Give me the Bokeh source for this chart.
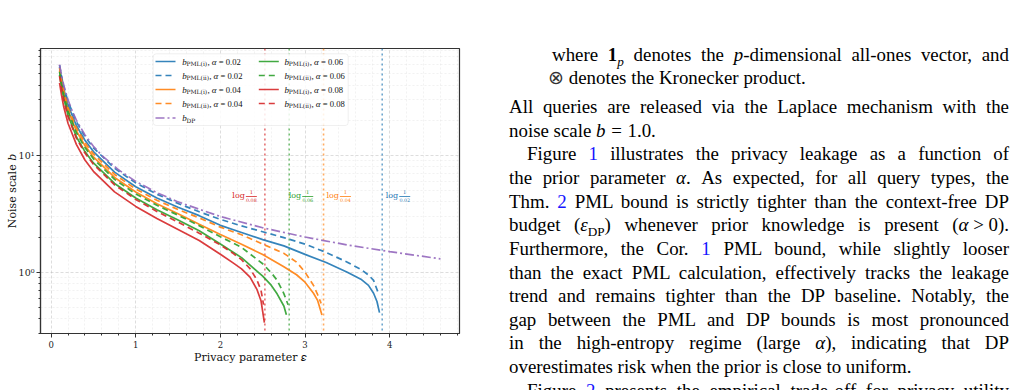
import numpy as np
from bokeh.plotting import figure
from bokeh.models import FixedTicker, Span, Div, BoxAnnotation, Range1d
from bokeh.layouts import row
from bokeh.core.properties import value
from bokeh.embed import file_html
from bokeh.resources import INLINE

# ---------------------------------------------------------------- data
alphas = [0.02, 0.04, 0.06, 0.08]
alpha_labels = ["0.02", "0.04", "0.06", "0.08"]

eps_dp = [0.1, 0.125, 0.15, 0.2, 0.25, 0.3, 0.4, 0.5, 0.6, 0.8, 1.0, 1.25, 1.5, 2.0, 2.5, 3.0, 3.5, 4.0, 4.6]
b_dp = [60, 48, 40, 30, 24, 20, 15, 12, 10, 7.5, 6.0, 4.8, 4.0, 3.0, 2.4, 2.0, 1.71, 1.5, 1.3]

# PML(i) / PML(ii) noise scales, alpha = 0.02
eps_i_002 = [0.1, 0.125, 0.15, 0.2, 0.3, 0.4, 0.5, 0.75, 1.0, 1.25, 1.5, 1.75, 2.0, 2.25, 2.5, 2.75, 3.0, 3.25, 3.5, 3.66, 3.75, 3.81, 3.85, 3.88]
b_i_002 = [57.6, 45.4, 37.2, 27.0, 18.0, 13.5, 10.8, 7.2, 5.4, 4.32, 3.6, 3.05, 2.52, 2.19, 1.9, 1.68, 1.42, 1.21, 1.0, 0.87, 0.77, 0.66, 0.56, 0.45]
eps_ii_002 = [0.1, 0.125, 0.15, 0.2, 0.3, 0.4, 0.5, 0.75, 1.0, 1.25, 1.5, 1.75, 2.0, 2.25, 2.5, 2.75, 3.0, 3.25, 3.5, 3.66, 3.75, 3.81, 3.87]
b_ii_002 = [59.4, 47.0, 38.8, 29.1, 19.4, 14.55, 11.64, 7.76, 5.82, 4.66, 3.88, 3.29, 2.835, 2.49, 2.22, 1.975, 1.74, 1.477, 1.217, 1.057, 0.944, 0.85, 0.65]

# alpha = 0.04
eps_i_004 = [0.1, 0.125, 0.15, 0.2, 0.3, 0.4, 0.5, 0.75, 1.0, 1.25, 1.5, 1.75, 2.0, 2.25, 2.5, 2.75, 2.9, 3.0, 3.1, 3.15, 3.2]
b_i_004 = [53.4, 41.8, 34.0, 24.3, 16.2, 12.15, 9.72, 6.48, 4.86, 3.86, 3.16, 2.57, 2.1, 1.733, 1.416, 1.113, 0.95, 0.82, 0.66, 0.57, 0.43]
eps_ii_004 = [0.1, 0.125, 0.15, 0.2, 0.3, 0.4, 0.5, 0.75, 1.0, 1.25, 1.5, 1.75, 2.0, 2.25, 2.5, 2.75, 2.9, 3.0, 3.1, 3.15, 3.19]
b_ii_004 = [56.4, 44.2, 36.0, 25.8, 17.2, 12.9, 10.32, 6.88, 5.16, 4.13, 3.44, 2.92, 2.43, 2.09, 1.74, 1.45, 1.22, 1.0, 0.77, 0.64, 0.54]

# alpha = 0.06
eps_i_006 = [0.1, 0.125, 0.15, 0.2, 0.3, 0.4, 0.5, 0.75, 1.0, 1.25, 1.5, 1.75, 2.0, 2.25, 2.5, 2.6, 2.67, 2.75, 2.78]
b_i_006 = [49.2, 38.2, 30.8, 22.2, 14.4, 10.8, 8.64, 5.76, 4.32, 3.43, 2.8, 2.26, 1.74, 1.333, 0.924, 0.773, 0.652, 0.513, 0.432]
eps_ii_006 = [0.1, 0.125, 0.15, 0.2, 0.3, 0.4, 0.5, 0.75, 1.0, 1.25, 1.5, 1.75, 2.0, 2.25, 2.5, 2.6, 2.67, 2.75, 2.80]
b_ii_006 = [52.2, 40.8, 33.2, 24.0, 15.6, 11.7, 9.36, 6.24, 4.68, 3.74, 3.08, 2.50, 2.01, 1.63, 1.18, 0.99, 0.854, 0.655, 0.525]

# alpha = 0.08
eps_i_008 = [0.1, 0.125, 0.15, 0.2, 0.3, 0.4, 0.5, 0.75, 1.0, 1.25, 1.5, 1.75, 2.0, 2.15, 2.25, 2.35, 2.43, 2.48, 2.52]
b_i_008 = [42.0, 32.4, 26.0, 18.9, 12.4, 9.15, 7.32, 4.88, 3.66, 2.88, 2.32, 1.87, 1.425, 1.2, 1.067, 0.906, 0.716, 0.569, 0.369]
eps_ii_008 = [0.1, 0.125, 0.15, 0.2, 0.3, 0.4, 0.5, 0.75, 1.0, 1.25, 1.5, 1.75, 2.0, 2.15, 2.25, 2.35, 2.43, 2.48, 2.51]
b_ii_008 = [48.0, 37.2, 30.0, 21.6, 14.0, 10.5, 8.4, 5.6, 4.2, 3.31, 2.68, 2.16, 1.71, 1.45, 1.28, 1.072, 0.864, 0.70, 0.526]

x_ticks = [0, 1, 2, 3, 4]
y_ticks = [1, 10]
y_tick_labels = ["10\u2070", "10\u00b9"]

# ---------------------------------------------------------------- style
COLORS = ["#1f77b4", "#ff7f0e", "#2ca02c", "#d62728"]
DP_COLOR = "#9467bd"
SERIF = "DejaVu Serif"
TIMES = "Liberation Serif"
DASH = "6 4"
DASHDOT = "9 3 2 3"

# frame geometry (pixels inside the figure canvas)
FRAME_L, FRAME_T, FRAME_W, FRAME_H = 40, 48, 419, 285
FIG_W, FIG_H = 490, 390
X_LO, X_HI = -0.125, 4.825
Y_LO, Y_HI = 0.298, 82.6
LY_LO, LY_HI = np.log10(Y_LO), np.log10(Y_HI)


def px_x(px):
    return X_LO + (px - FRAME_L) * (X_HI - X_LO) / FRAME_W


def px_y(py):
    return 10 ** (LY_HI - (py - FRAME_T) * (LY_HI - LY_LO) / FRAME_H)


p = figure(
    frame_width=FRAME_W, frame_height=FRAME_H,
    x_range=Range1d(X_LO, X_HI), y_range=Range1d(Y_LO, Y_HI),
    y_axis_type="log", output_backend="svg", toolbar_location=None,
    min_border_left=FRAME_L, min_border_top=FRAME_T,
    min_border_right=FIG_W - FRAME_L - FRAME_W,
    min_border_bottom=FIG_H - FRAME_T - FRAME_H,
    background_fill_color="white", border_fill_color="white",
)
p.outline_line_color = "#333333"
p.outline_line_width = 1.2

x_minor = [round(v, 1) for v in np.arange(-0.0, 4.81, 0.2) if round(v, 1) not in x_ticks]
y_minor = [m * 10.0 ** k for k in (-1, 0, 1) for m in range(2, 10) if Y_LO <= m * 10.0 ** k <= Y_HI]
xt = FixedTicker(ticks=x_ticks, minor_ticks=x_minor)
yt = FixedTicker(ticks=y_ticks, minor_ticks=y_minor)
p.xaxis.ticker = xt
p.yaxis.ticker = yt
p.xgrid.ticker = xt
p.ygrid.ticker = yt
p.yaxis.major_label_overrides = dict(zip(y_ticks, y_tick_labels))

for ax in (p.xaxis[0], p.yaxis[0]):
    ax.axis_line_color = "#333333"
    ax.axis_line_width = 1.2
    ax.major_tick_line_color = "#333333"
    ax.minor_tick_line_color = "#333333"
    ax.major_tick_out = 4
    ax.major_tick_in = 0
    ax.minor_tick_out = 2
    ax.minor_tick_in = 0
    ax.major_label_text_font = SERIF
    ax.major_label_text_color = "#222222"
    ax.major_label_standoff = 3
    ax.axis_label_text_font = SERIF
    ax.axis_label_text_font_size = "11px"
    ax.axis_label_text_font_style = "normal"
    ax.axis_label_text_color = "#111111"
p.xaxis.major_label_text_font_size = "8.5px"
p.yaxis.major_label_text_font_size = "9.5px"
p.yaxis.major_label_standoff = 2
p.xaxis.axis_label_standoff = 0
p.yaxis.axis_label_standoff = -3
p.xaxis.axis_label = "Privacy parameter \U0001d700"
p.yaxis.axis_label = "Noise scale \U0001d44f"

for g in (p.xgrid, p.ygrid):
    g.grid_line_color = "#b0b0b0"
    g.grid_line_alpha = 0.55
    g.grid_line_dash = "3 2"
    g.grid_line_width = 0.8
    g.minor_grid_line_color = "#b0b0b0"
    g.minor_grid_line_alpha = 0.28
    g.minor_grid_line_dash = "2 2"
    g.minor_grid_line_width = 0.6

# ---------------------------------------------------------------- curves
series_i = [(eps_i_002, b_i_002), (eps_i_004, b_i_004), (eps_i_006, b_i_006), (eps_i_008, b_i_008)]
series_ii = [(eps_ii_002, b_ii_002), (eps_ii_004, b_ii_004), (eps_ii_006, b_ii_006), (eps_ii_008, b_ii_008)]

for (xs, ys), c in zip(series_i, COLORS):
    p.line(xs, ys, line_color=c, line_width=1.7, line_alpha=0.9)
for (xs, ys), c in zip(series_ii, COLORS):
    p.line(xs, ys, line_color=c, line_width=1.7, line_alpha=0.9, line_dash=DASH)
p.line(eps_dp, b_dp, line_color=DP_COLOR, line_width=1.7, line_alpha=0.9, line_dash=DASHDOT)

# ---------------------------------------------------------------- thresholds log(1/alpha)
label_shift_px = [3.5, 2.9, -0.5, -32.5]   # where each label starts, relative to its line
LABEL_Y_PX = 195
dxu = (X_HI - X_LO) / FRAME_W
for a, c, lab, shift in zip(alphas, COLORS, alpha_labels, label_shift_px):
    thr = float(np.log(1.0 / a))
    p.add_layout(Span(location=thr, dimension="height", line_color=c, line_dash="2 3",
                      line_width=1.6, line_alpha=0.65, level="underlay"))
    x0 = thr + shift * dxu
    p.text([x0], [px_y(LABEL_Y_PX)], text=["log"], text_color=c, text_font=value(SERIF),
           text_font_size="8px", text_baseline="middle", text_align="left")
    p.text([x0 + 19 * dxu], [px_y(LABEL_Y_PX - 3.8)], text=["1"], text_color=c, text_font=value(SERIF),
           text_font_size="5.2px", text_baseline="middle", text_align="center")
    p.text([x0 + 19 * dxu], [px_y(LABEL_Y_PX + 4.2)], text=[lab], text_color=c, text_font=value(SERIF),
           text_font_size="4.8px", text_baseline="middle", text_align="center")
    p.segment(x0=[x0 + 13.5 * dxu], y0=[px_y(LABEL_Y_PX + 1)], x1=[x0 + 24.5 * dxu], y1=[px_y(LABEL_Y_PX + 1)],
              line_color=c, line_width=0.8)

# ---------------------------------------------------------------- legend
p.add_layout(BoxAnnotation(left=px_x(152.7), right=px_x(347.7), top=px_y(53.3), bottom=px_y(125),
                           fill_color="white", fill_alpha=0.85, line_color="#cccccc", line_width=1,
                           border_radius=3, level="underlay"))

ROW_Y = [61, 75, 89, 103, 117.5]
COL_SAMPLE = [155, 258.3]
COL_TEXT = [181.7, 284]
entries = []
for k, (a_lab, c) in enumerate(zip(alpha_labels, COLORS)):
    col = k // 2
    r0 = (k % 2) * 2
    entries.append((col, r0, c, None, "PML(i)", a_lab))
    entries.append((col, r0 + 1, c, DASH, "PML(ii)", a_lab))
entries.append((0, 4, DP_COLOR, DASHDOT, "DP", None))

for col, r, c, dash, sub, a_lab in entries:
    yy = px_y(ROW_Y[r])
    kw = dict(line_color=c, line_width=1.7, line_alpha=0.9)
    if dash:
        kw["line_dash"] = dash
    p.line([px_x(COL_SAMPLE[col]), px_x(COL_SAMPLE[col] + 20)], [yy, yy], **kw)
    tx = COL_TEXT[col]
    p.text([px_x(tx)], [yy], text=["b"], text_font=value(TIMES), text_font_style="italic",
           text_font_size="9px", text_baseline="middle", text_color="#111111")
    p.text([px_x(tx + 4.2)], [px_y(ROW_Y[r] + 2.3)], text=[sub], text_font=value(SERIF),
           text_font_size="6px", text_baseline="middle", text_color="#111111")
    if a_lab is not None:
        off = 25.3 if sub == "PML(i)" else 27.0
        p.text([px_x(tx + off)], [yy], text=[","], text_font=value(TIMES),
               text_font_size="9px", text_baseline="middle", text_color="#111111")
        p.text([px_x(tx + off + 4.3)], [yy], text=["\u03b1"], text_font=value(TIMES), text_font_style="italic",
               text_font_size="9px", text_baseline="middle", text_color="#111111")
        p.text([px_x(tx + off + 11.2)], [yy], text=["= " + a_lab], text_font=value(TIMES),
               text_font_size="8.6px", text_baseline="middle", text_color="#111111")

# ---------------------------------------------------------------- text column
TEXT_L = FIG_W
RIGHT = 1009
BLUE = "#1515ff"
PITCH = 23.64
SUB = '<sub style="font-size:70%;line-height:0">'
OTIMES = '<span style="font-family:\'DejaVu Sans\';font-weight:200;color:#333">&#8855;</span>'
text_lines = [
    (552, 60.5, True, 'where <b>1</b>' + SUB + '<i>p</i></sub> denotes the <i>p</i>-dimensional all-ones vector, and'),
    (548, 83.5, False, OTIMES + ' denotes the Kronecker product.'),
    (509, 113, True, 'All queries are released via the Laplace mechanism with the'),
    (509, 113 + PITCH, False, 'noise scale <i>b</i><span style="margin:0 0.3em">=</span>1.0.'),
    (527, 113 + 2 * PITCH, True, 'Figure <span style="color:%s">1</span> illustrates the privacy leakage as a function of' % BLUE),
    (509, 113 + 3 * PITCH, True, 'the prior parameter <i>&alpha;</i>. As expected, for all query types, the'),
    (509, 113 + 4 * PITCH, True, 'Thm. <span style="color:%s">2</span> PML bound is strictly tighter than the context-free DP' % BLUE),
    (509, 113 + 5 * PITCH, True, 'budget (<i>&epsilon;</i>' + SUB + 'DP</sub>) whenever prior knowledge is present (<i>&alpha;</i><span style="margin:0 0.25em">&gt;</span>0).'),
    (509, 113 + 6 * PITCH, True, 'Furthermore, the Cor. <span style="color:%s">1</span> PML bound, while slightly looser' % BLUE),
    (509, 113 + 7 * PITCH, True, 'than the exact PML calculation, effectively tracks the leakage'),
    (509, 113 + 8 * PITCH, True, 'trend and remains tighter than the DP baseline. Notably, the'),
    (509, 113 + 9 * PITCH, True, 'gap between the PML and DP bounds is most pronounced'),
    (509, 113 + 10 * PITCH, True, 'in the high-entropy regime (large <i>&alpha;</i>), indicating that DP'),
    (509, 113 + 11 * PITCH, False, 'overestimates risk when the prior is close to uniform.'),
    (527, 113 + 12 * PITCH, True, 'Figure <span style="color:%s">2</span> presents the empirical trade-off for privacy utility' % BLUE),
]
parts = []
for left, base, just, html in text_lines:
    align = "text-align:justify;text-align-last:justify;" if just else "text-align:left;"
    parts.append(
        '<div style="position:absolute;left:%dpx;top:%.1fpx;width:%dpx;line-height:23px;%s">%s</div>'
        % (left - TEXT_L, base - 18, RIGHT - left, align, html))
div_html = ('<div style="position:relative;width:%dpx;height:390px;overflow:hidden;'
            'font-family:\'Liberation Serif\';font-size:18.9px;color:#000;">%s</div>'
            % (1018 - TEXT_L, "".join(parts)))
txt = Div(text=div_html, width=1018 - TEXT_L, height=390, margin=(0, 0, 0, 0))

layout = row(p, txt, spacing=0)
open("out.html", "w").write(file_html(layout, INLINE))
